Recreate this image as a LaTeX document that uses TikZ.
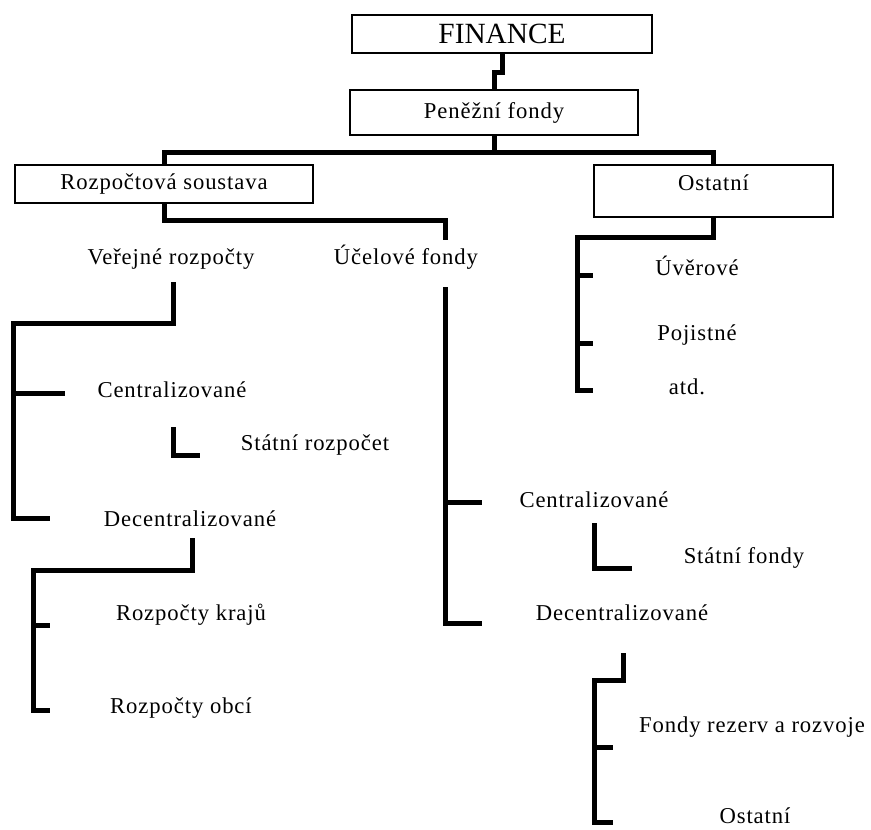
\documentclass[tikz,border=0pt]{standalone}
\usepackage{fontspec}
\setmainfont{Liberation Serif}[LetterSpace=4]
\tikzset{
  conn/.style={line width=3.75pt, line cap=butt, line join=miter},
  box/.style={draw, line width=1pt, fill=white, inner sep=0pt},
  lbl/.style={inner sep=0pt, text height=12pt, text depth=3.5pt, font=\fontsize{17}{20}\selectfont}
}
\begin{document}
\begin{tikzpicture}[x=0.75pt, y=-0.75pt]
\useasboundingbox (0,0) rectangle (871,829);
\node[box, minimum width=225pt, minimum height=28.5pt, font=\fontsize{22}{26}\selectfont\addfontfeatures{LetterSpace=0}] (fin) at (502,34) {FINANCE}; % FINANCE
\node[box, minimum width=216pt, minimum height=33.75pt, font=\fontsize{17}{20}\selectfont] (pen) at (494,112.5) {Peněžní fondy}; % Penezni fondy
\node[box, minimum width=223.5pt, minimum height=28.5pt, font=\fontsize{17}{20}\selectfont] (rozp) at (164,184) {Rozpočtová soustava}; % Rozpoctova soustava
\node[box, minimum width=179.25pt, minimum height=39pt, text depth=12pt, font=\fontsize{17}{20}\selectfont] (ost) at (713.5,191) {Ostatní}; % Ostatni
\draw[conn] (fin.south) -- ++(0,19) -| (pen.north); % fin-pen
\draw[conn] (pen.south) -- ++(0,17) coordinate (bar); % pen-bar
\draw[conn] (rozp.north) |- (bar) -| (ost.north); % bar

\node[lbl] (ver) at (171,259) {Veřejné rozpočty}; % Verejne rozpocty
\node[lbl] (ucel) at (406,259) {Účelové fondy}; % Ucelove fondy
\coordinate (ucin) at (445,240);
\draw[conn] (rozp.south) -- ++(0,17) -| (ucin); % rozp-ucel

\node[lbl] (uver) at (697,270) {Úvěrové}; % Uverove
\node[lbl] (poj) at (697,335) {Pojistné}; % Pojistne
\node[lbl] (atd) at (687,389) {atd.}; % atd
\coordinate (o1) at (577,237);
\coordinate (o2) at (593,275);
\coordinate (o3) at (593,343);
\coordinate (o4) at (593,390);
\draw[conn] (ost.south) |- (o1) |- (o4); % ost
\draw[conn] (o1 |- o2) -- (o2); % uver
\draw[conn] (o1 |- o3) -- (o3); % poj

\node[lbl] (vcen) at (172,392) {Centralizované}; % Centralizovane
\node[lbl] (srozp) at (315,445) {Státní rozpočet}; % Statni rozpocet
\node[lbl] (vdec) at (190,521) {Decentralizované}; % Decentralizovane
\coordinate (v1) at (173,282);
\coordinate (v2) at (13,323);
\coordinate (v3) at (50,518);
\coordinate (v4) at (65,393);
\draw[conn] (v1) |- (v2) |- (v3); % ver
\draw[conn] (v2 |- v4) -- (v4); % vcen
\coordinate (s1) at (173,427);
\coordinate (s2) at (200,455);
\draw[conn] (s1) |- (s2); % srozp

\node[lbl] (kraj) at (191,615) {Rozpočty krajů}; % Rozpocty kraju
\node[lbl] (obec) at (181,708) {Rozpočty obcí}; % Rozpocty obci
\coordinate (d1) at (192,538);
\coordinate (d2) at (33,570);
\coordinate (d3) at (50,710);
\coordinate (d4) at (50,625);
\draw[conn] (d1) |- (d2) |- (d3); % vdec
\draw[conn] (d2 |- d4) -- (d4); % kraj

\node[lbl] (ucen) at (594,502) {Centralizované}; % Centralizovane
\node[lbl] (sfond) at (744,558) {Státní fondy}; % Statni fondy
\node[lbl] (udec) at (622,615) {Decentralizované}; % Decentralizovane
\coordinate (u1) at (445,287);
\coordinate (u2) at (482,623);
\coordinate (u3) at (482,502);
\draw[conn] (u1) |- (u2); % ucel
\draw[conn] (u1 |- u3) -- (u3); % ucen
\coordinate (f1) at (594,523);
\coordinate (f2) at (632,568);
\draw[conn] (f1) |- (f2); % sfond

\node[lbl] (rez) at (752,727) {Fondy rezerv a rozvoje}; % Fondy rezerv a rozvoje
\node[lbl] (uost) at (755,818) {Ostatní}; % Ostatni
\coordinate (e1) at (623,653);
\coordinate (e2) at (594,680);
\coordinate (e3) at (613,822);
\coordinate (e4) at (613,747);
\draw[conn] (e1) |- (e2) |- (e3); % udec
\draw[conn] (e2 |- e4) -- (e4); % rez
\end{tikzpicture}
\end{document}
